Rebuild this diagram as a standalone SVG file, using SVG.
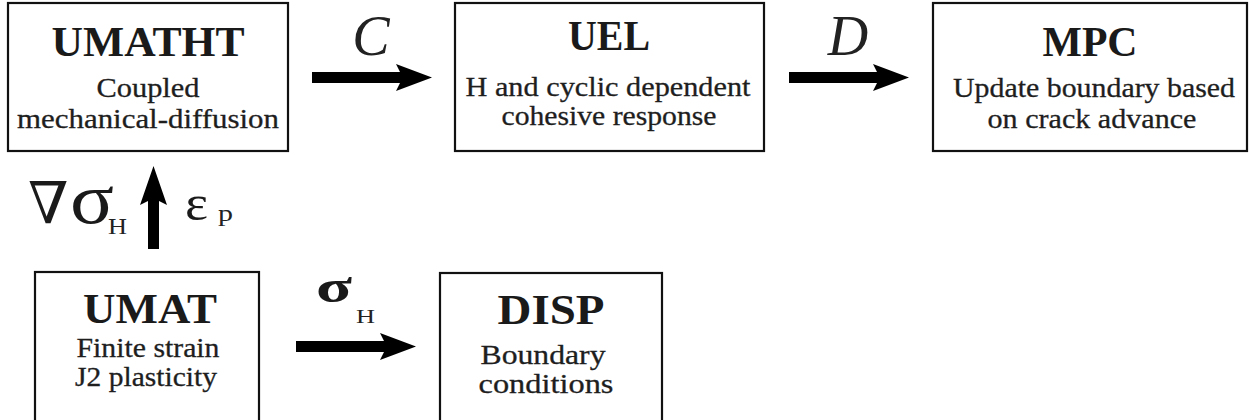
<svg xmlns="http://www.w3.org/2000/svg" xmlns:xlink="http://www.w3.org/1999/xlink" width="1250" height="420" viewBox="0 0 1250 420">
<style>
.box{fill:#fff;stroke:#111;stroke-width:2.2}
.title{font-family:"Liberation Serif","Times New Roman",serif;font-weight:bold;font-size:43px;fill:#1a1a1a;text-anchor:middle}
.body{font-family:"Liberation Serif","Times New Roman",serif;font-size:27.5px;fill:#1e1e1e;stroke:#1e1e1e;stroke-width:0.3;text-anchor:middle}
.lab{font-family:"Liberation Serif","Times New Roman",serif;font-style:italic;font-size:56px;fill:#222;text-anchor:middle}
.nabla{font-family:"DejaVu Serif","Liberation Serif",serif;fill:#1a1a1a}
.sym{font-family:"Liberation Serif","Times New Roman",serif;fill:#1a1a1a}
.sub{font-family:"Liberation Serif","Times New Roman",serif;fill:#222}
.arrow{fill:#000}
</style>
<defs>
<path id="harrow" d="M0,-5.5 H88 L84,-13.5 L120,0 L84,13.5 L88,5.5 H0 Z"/>
</defs>
<rect width="1250" height="420" fill="#fff"/>
<g id="connectors" class="arrow">
<use xlink:href="#harrow" x="312" y="77.5"/>
<use xlink:href="#harrow" x="789" y="77.5"/>
<use xlink:href="#harrow" x="296" y="346.5"/>
<path d="M148,249 V201 L140,205 L153.5,166 L167,205 L159,201 V249 Z"/>
</g>
<g id="labels">
<text class="lab" x="371" y="55">C</text>
<text class="lab" x="848" y="55">D</text>
<text class="nabla" x="28" y="223" font-size="58">∇</text>
<text class="sym" x="70" y="223" font-size="72" textLength="44" lengthAdjust="spacingAndGlyphs">σ</text>
<text class="sub" x="108" y="234" font-size="23" textLength="19" lengthAdjust="spacingAndGlyphs">H</text>
<text class="sym" x="185" y="220" font-size="50" textLength="23" lengthAdjust="spacingAndGlyphs">ε</text>
<text class="sub" x="218" y="221" font-size="24" textLength="15" lengthAdjust="spacingAndGlyphs">p</text>
<text class="sym" x="316" y="302" font-size="46" font-weight="bold" textLength="36" lengthAdjust="spacingAndGlyphs">σ</text>
<text class="sub" x="356" y="323" font-size="19" textLength="19" lengthAdjust="spacingAndGlyphs">H</text>
</g>
<g id="umatht">
<rect class="box" x="8" y="3" width="280" height="148"/>
<text class="title" x="148" y="56" textLength="193" lengthAdjust="spacingAndGlyphs">UMATHT</text>
<text class="body" x="148" y="97" textLength="103" lengthAdjust="spacingAndGlyphs">Coupled</text>
<text class="body" x="148" y="128" textLength="262" lengthAdjust="spacingAndGlyphs">mechanical-diffusion</text>
</g>
<g id="uel">
<rect class="box" x="455" y="3" width="309" height="148"/>
<text class="title" x="609" y="50" textLength="82" lengthAdjust="spacingAndGlyphs">UEL</text>
<text class="body" x="608" y="96" textLength="285" lengthAdjust="spacingAndGlyphs">H and cyclic dependent</text>
<text class="body" x="609" y="125" textLength="215" lengthAdjust="spacingAndGlyphs">cohesive response</text>
</g>
<g id="mpc">
<rect class="box" x="933" y="3" width="314" height="148"/>
<text class="title" x="1090" y="56" textLength="95" lengthAdjust="spacingAndGlyphs">MPC</text>
<text class="body" x="1094" y="97" textLength="282" lengthAdjust="spacingAndGlyphs">Update boundary based</text>
<text class="body" x="1092" y="128" textLength="209" lengthAdjust="spacingAndGlyphs">on crack advance</text>
</g>
<g id="umat">
<rect class="box" x="35" y="272" width="224" height="160"/>
<text class="title" x="150" y="323" textLength="134" lengthAdjust="spacingAndGlyphs">UMAT</text>
<text class="body" x="148" y="357" textLength="143" lengthAdjust="spacingAndGlyphs">Finite strain</text>
<text class="body" x="146" y="386" textLength="142" lengthAdjust="spacingAndGlyphs">J2 plasticity</text>
</g>
<g id="disp">
<rect class="box" x="440" y="273" width="222" height="160"/>
<text class="title" x="551" y="324" textLength="107" lengthAdjust="spacingAndGlyphs">DISP</text>
<text class="body" x="543" y="364" textLength="125" lengthAdjust="spacingAndGlyphs">Boundary</text>
<text class="body" x="546" y="393" textLength="135" lengthAdjust="spacingAndGlyphs">conditions</text>
</g>
</svg>
